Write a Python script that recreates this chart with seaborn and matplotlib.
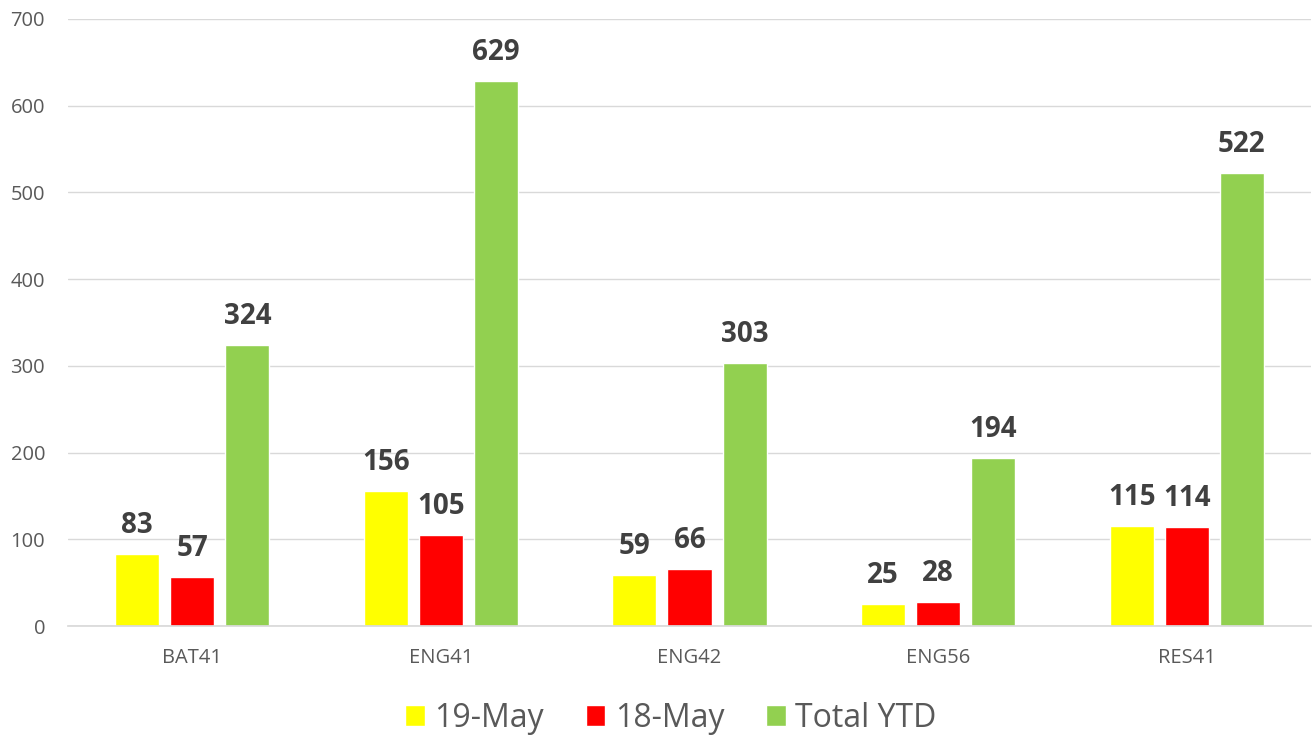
import matplotlib
matplotlib.use("Agg")
import matplotlib.pyplot as plt
import seaborn as sns
import pandas as pd

categories = ["BAT41", "ENG41", "ENG42", "ENG56", "RES41"]
series_names = ["19-May", "18-May", "Total YTD"]
may19 = [83, 156, 59, 25, 115]
may18 = [57, 105, 66, 28, 114]
total_ytd = [324, 629, 303, 194, 522]
colors = ["#FFFF00", "#FF0000", "#92D050"]

rows = []
for name, vals in zip(series_names, [may19, may18, total_ytd]):
    for c, v in zip(categories, vals):
        rows.append({"cat": c, "series": name, "value": v})
df = pd.DataFrame(rows)

sns.set_theme(style="white")
plt.rcParams["font.family"] = ["Open Sans", "DejaVu Sans"]

fig = plt.figure(figsize=(13.15, 7.35), dpi=100)
ax = fig.add_axes([68/1315, 109/735, 1243/1315, 607/735])

sns.barplot(data=df, x="cat", y="value", hue="series", palette=colors,
            width=0.664, gap=0.2, ax=ax, legend=True, saturation=1)

for cont in ax.containers:
    ax.bar_label(cont, fmt="%d", padding=10, fontsize=20, fontweight="bold", color="#404040")

ax.set_ylim(0, 700)
ax.set_xlim(-0.5, 4.5)
ax.set_yticks(range(0, 701, 100))
ax.yaxis.grid(True, color="#D9D9D9", linewidth=1)
ax.set_axisbelow(True)
for s in ["top", "right", "left"]:
    ax.spines[s].set_visible(False)
ax.spines["bottom"].set_color("#D9D9D9")
ax.set_xlabel("")
ax.set_ylabel("")
ax.tick_params(axis="both", length=0, labelsize=14.5, colors="#595959")
ax.tick_params(axis="y", pad=16.5)
ax.tick_params(axis="x", pad=16)

handles, labels = ax.get_legend_handles_labels()
ax.legend(handles, labels, loc="center", bbox_to_anchor=(0.485, -0.152), ncol=3,
          frameon=False, fontsize=23, handlelength=0.62, handleheight=0.62,
          columnspacing=1.3, handletextpad=0.3, labelcolor="#595959")

fig.savefig("out.png", dpi=100)
